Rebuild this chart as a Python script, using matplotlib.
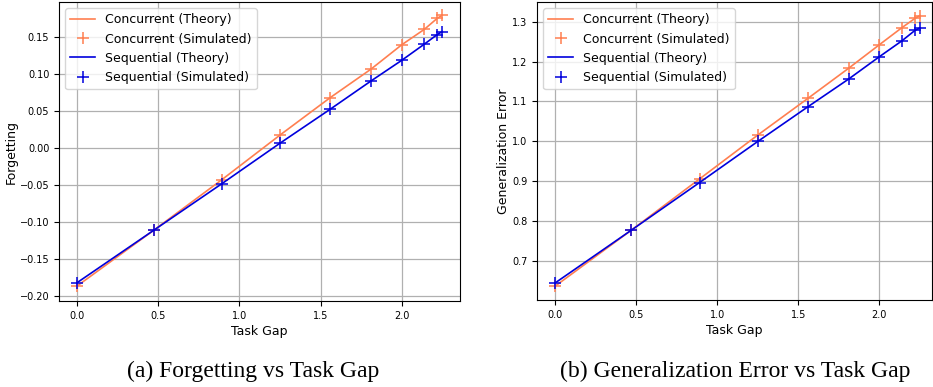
import numpy as np
import matplotlib.pyplot as plt

# task gap values (shared by both panels)
gap = [0.0, 0.47, 0.89, 1.25, 1.56, 1.81, 2.0, 2.14, 2.22, 2.25]

# forgetting
forg_conc = [-0.186, -0.111, -0.0426, 0.018, 0.0687, 0.107, 0.140, 0.161, 0.176, 0.180]
forg_seq = [-0.1815, -0.111, -0.048, 0.007, 0.053, 0.091, 0.119, 0.141, 0.154, 0.158]

# generalization error
gen_conc = [0.638, 0.778, 0.906, 1.016, 1.108, 1.183, 1.242, 1.285, 1.308, 1.315]
gen_seq = [0.646, 0.778, 0.897, 1.000, 1.087, 1.156, 1.212, 1.252, 1.278, 1.284]

conc_col = '#ff7f50'
seq_col = '#0000dd'

fig = plt.figure(figsize=(9.33, 3.87), dpi=100)
W, H = 933.0, 387.0

def panel(box, yc, ys, ylabel, xlim, ylim, yticks, caption, cx):
    ax = fig.add_axes([box[0] / W, 1 - box[3] / H, (box[2] - box[0]) / W, (box[3] - box[1]) / H])
    ax.plot(gap, yc, '-', color=conc_col, lw=1.2, label='Concurrent (Theory)', zorder=3)
    ax.plot(gap, yc, '+', color=conc_col, ms=8, mew=1.1, ls='none', label='Concurrent (Simulated)', zorder=3)
    ax.plot(gap, ys, '-', color=seq_col, lw=1.2, label='Sequential (Theory)', zorder=4)
    ax.plot(gap, ys, '+', color=seq_col, ms=8, mew=1.1, ls='none', label='Sequential (Simulated)', zorder=4)
    ax.set_xlim(*xlim)
    ax.set_ylim(*ylim)
    ax.set_xticks([0.0, 0.5, 1.0, 1.5, 2.0])
    ax.set_yticks(yticks)
    ax.grid(True, color='#b0b0b0', lw=0.9)
    ax.tick_params(labelsize=7)
    ax.set_xlabel('Task Gap', fontsize=9, labelpad=3)
    ax.set_ylabel(ylabel, fontsize=9, labelpad=1.5)
    ax.legend(loc='upper left', fontsize=9, handlelength=2, borderaxespad=0.5, framealpha=0.8)
    fig.text(cx / W, 1 - 371 / H, caption, ha='center', va='center',
             fontsize=17, family='Liberation Serif')
    return ax

panel((59, 2, 460, 301), forg_conc, forg_seq, 'Forgetting',
      (-0.113, 2.36), (-0.2065, 0.198),
      [-0.20, -0.15, -0.10, -0.05, 0.00, 0.05, 0.10, 0.15],
      '(a) Forgetting vs Task Gap', 253)
ax2 = panel((537, 2, 932, 300), gen_conc, gen_seq, 'Generalization Error',
            (-0.113, 2.325), (0.603, 1.349),
            [0.7, 0.8, 0.9, 1.0, 1.1, 1.2, 1.3],
            '(b) Generalization Error vs Task Gap', 735)

fig.savefig('out.png', dpi=100)
